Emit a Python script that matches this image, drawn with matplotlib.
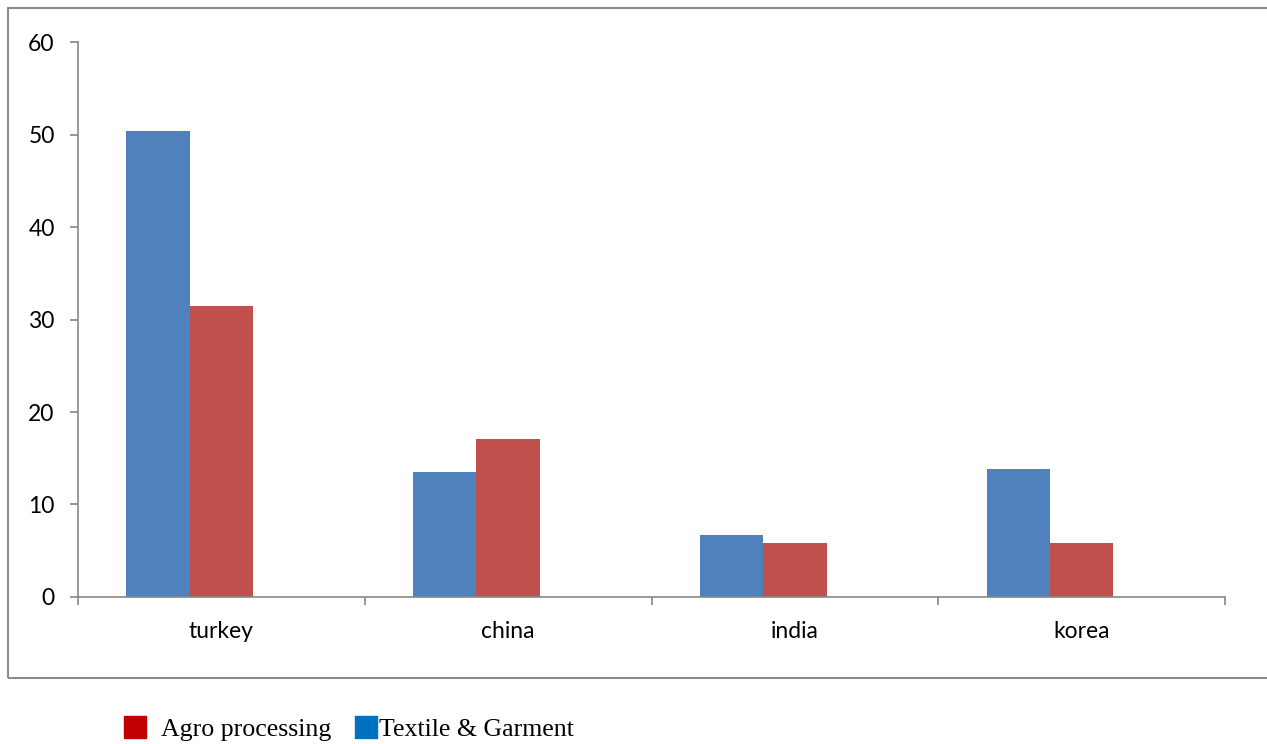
import matplotlib
matplotlib.use("Agg")
import matplotlib.pyplot as plt
from matplotlib.patches import Rectangle
import numpy as np

# values
countries = ['turkey', 'china', 'india', 'korea']
textile = [50.4, 13.5, 6.7, 13.8]
agro = [31.5, 17.1, 5.8, 5.8]

blue = '#4F81BD'
red = '#C0504D'
grey = '#868686'

fig = plt.figure(figsize=(12.67, 7.44), dpi=100)
ax = fig.add_axes([0.0616, 0.1976, 0.9053, 0.7459])

x = np.arange(len(countries))
w = 0.221
# the pair sits left of the category centre (red bar centred on it)
ax.bar(x - w, textile, width=w, color=blue, edgecolor='none')
ax.bar(x, agro, width=w, color=red, edgecolor='none')

ax.set_xlim(-0.5, len(countries) - 0.5)
ax.set_ylim(0, 60)
ax.set_yticks(np.arange(0, 61, 10))

# tick marks between categories, labels at the centres
ax.set_xticks(np.arange(-0.5, len(countries)), labels=[''] * (len(countries) + 1))
ax.set_xticks(x, labels=countries, minor=True)
ax.tick_params(axis='x', which='major', length=5.8, width=1.2, color=grey, direction='out')
ax.tick_params(axis='x', which='minor', length=0, pad=17.5, labelsize=16.5)
ax.tick_params(axis='y', length=5.8, width=1.2, color=grey, direction='out', pad=11, labelsize=16.5)
for lab in ax.get_xticklabels(minor=True) + ax.get_yticklabels():
    lab.set_fontfamily(['Lato', 'DejaVu Sans'])

for s in ['top', 'right']:
    ax.spines[s].set_visible(False)
for s in ['left', 'bottom']:
    ax.spines[s].set_color(grey)
    ax.spines[s].set_linewidth(1.2)

# outer chart frame
fig.patches.append(Rectangle((0.0063, 0.0887), 1.0, 0.9005, transform=fig.transFigure,
                             fill=False, edgecolor='#8C8C8C', linewidth=1.5))

# legend below the frame
serif = ['Liberation Serif', 'DejaVu Serif']
fig.patches.append(Rectangle((124 / 1267, 1 - 738 / 744), 22 / 1267, 22 / 744,
                             transform=fig.transFigure, color='#C00000'))
fig.text(161 / 1267, 1 - 730 / 744, 'Agro processing', fontsize=18.6,
         family=serif, va='center')
fig.patches.append(Rectangle((355 / 1267, 1 - 738 / 744), 22 / 1267, 22 / 744,
                             transform=fig.transFigure, color='#0070C0'))
fig.text(379 / 1267, 1 - 730 / 744, 'Textile & Garment', fontsize=18.6,
         family=serif, va='center')

fig.savefig('out.png', dpi=100, facecolor='white')
